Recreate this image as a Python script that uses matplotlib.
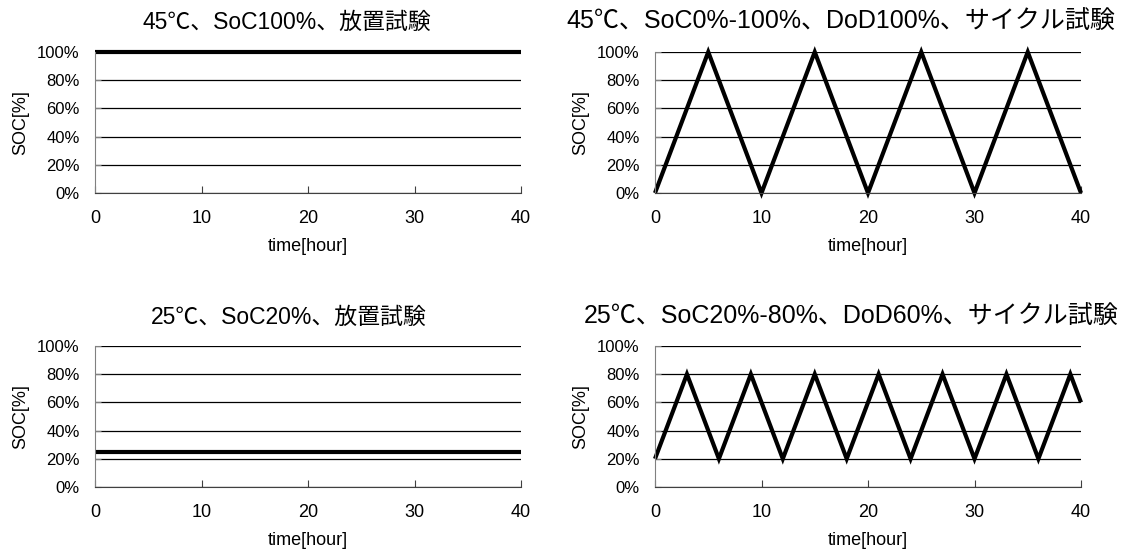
import matplotlib
matplotlib.use("Agg")
import matplotlib.pyplot as plt
from matplotlib.ticker import FuncFormatter

plt.rcParams['font.family'] = ['Liberation Sans', 'Noto Sans CJK JP', 'DejaVu Sans']

# storage tests: constant SOC
t_hold = [0, 40]
soc_45_hold = [100, 100]
soc_25_hold = [25, 25]

# cycle tests: triangular SOC profiles
t_cycle_45 = [0, 5, 10, 15, 20, 25, 30, 35, 40]
soc_cycle_45 = [0, 100, 0, 100, 0, 100, 0, 100, 0]
t_cycle_25 = [0, 3, 6, 9, 12, 15, 18, 21, 24, 27, 30, 33, 36, 39, 40]
soc_cycle_25 = [20, 80, 20, 80, 20, 80, 20, 80, 20, 80, 20, 80, 20, 80, 60]

titles = ["45℃、SoC100%、放置試験",
          "45℃、SoC0%-100%、DoD100%、サイクル試験",
          "25℃、SoC20%、放置試験",
          "25℃、SoC20%-80%、DoD60%、サイクル試験"]
series = [(t_hold, soc_45_hold), (t_cycle_45, soc_cycle_45),
          (t_hold, soc_25_hold), (t_cycle_25, soc_cycle_25)]

W, H = 1122, 553
fig = plt.figure(figsize=(W / 100, H / 100), dpi=100)

# axes boxes in pixels: left, top, right, bottom
boxes = [(95, 52, 521, 193), (655, 52, 1081, 193),
         (95, 346, 521, 487), (655, 346, 1081, 487)]
title_pos = [(287, 22), (841, 22), (289, 317), (851, 317)]
title_size = [16.5, 18, 16.5, 18]

pct = FuncFormatter(lambda v, _: f"{int(v)}%")

for (l, t, r, b), (x, y), title, (tx, ty), ts in zip(boxes, series, titles,
                                                      title_pos, title_size):
    ax = fig.add_axes([l / W, 1 - b / H, (r - l) / W, (b - t) / H])
    ax.set_xlim(0, 40)
    ax.set_ylim(0, 100)
    ax.set_xticks([0, 10, 20, 30, 40])
    ax.set_yticks([0, 20, 40, 60, 80, 100])
    ax.yaxis.set_major_formatter(pct)
    ax.grid(axis='y', color='black', lw=0.9)
    ax.set_axisbelow(True)
    for s in ['top', 'right']:
        ax.spines[s].set_visible(False)
    ax.spines['left'].set_color('#808080')
    ax.spines['bottom'].set_color('#404040')
    ax.tick_params(axis='x', direction='in', length=5, pad=12, labelsize=13,
                   color='#404040')
    ax.tick_params(axis='y', direction='in', length=4, pad=11, labelsize=12,
                   color='#808080')
    ax.plot(x, y, color='black', lw=3, clip_on=False,
            solid_joinstyle='miter', solid_capstyle='butt')
    ax.set_xlabel("time[hour]", fontsize=13, labelpad=8)
    ax.set_ylabel("SOC[%]", fontsize=13, labelpad=6)
    fig.text(tx / W, 1 - ty / H, title, ha='center', va='center', fontsize=ts)

fig.savefig("out.png", dpi=100)
